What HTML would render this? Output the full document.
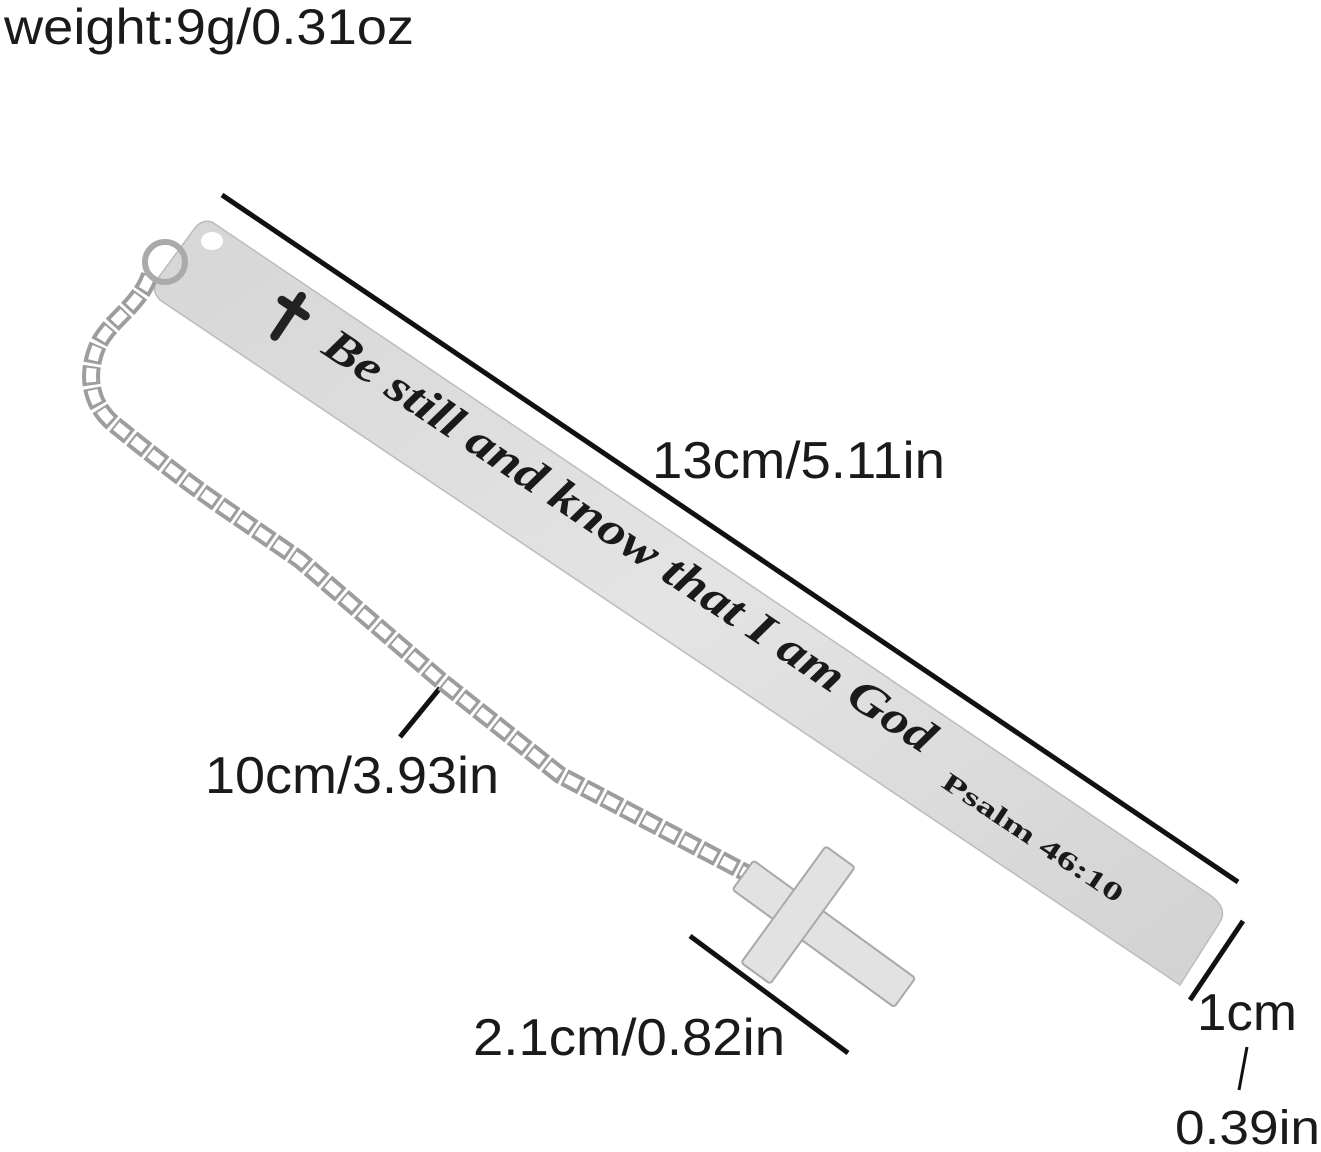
<!DOCTYPE html>
<html><head><meta charset="utf-8"><style>
html,body{margin:0;padding:0;background:#fff;}
svg{display:block}
text{font-family:"Liberation Sans",sans-serif;fill:#1a1a1a}
</style></head><body>
<svg width="1321" height="1152" viewBox="0 0 1321 1152" xmlns="http://www.w3.org/2000/svg">
<defs>
<linearGradient id="m" x1="0" y1="0" x2="1" y2="1">
<stop offset="0" stop-color="#d6d6d6"/><stop offset="0.5" stop-color="#e4e4e4"/><stop offset="1" stop-color="#d2d2d2"/>
</linearGradient>
</defs>
<text x="4" y="44" font-size="50" textLength="410" lengthAdjust="spacingAndGlyphs">weight:9g/0.31oz</text>
<!-- dimension lines -->
<line x1="222" y1="195" x2="1238" y2="882" stroke="#111" stroke-width="5"/>
<line x1="1243" y1="921" x2="1190" y2="1000" stroke="#111" stroke-width="5"/>
<line x1="1247" y1="1047" x2="1239" y2="1090" stroke="#111" stroke-width="3"/>
<line x1="440" y1="688" x2="400" y2="737" stroke="#111" stroke-width="5"/>
<line x1="690" y1="936" x2="848" y2="1053" stroke="#111" stroke-width="5"/>
<!-- bar -->
<path d="M212,222 L1210,895 Q1228,908 1220,922 L1180,985 L160,300 Q150,290 158,278 L195,228 Q202,219 212,222 Z" fill="url(#m)" stroke="#bcbcbc" stroke-width="1.5"/>
<ellipse cx="212" cy="241" rx="11" ry="9" fill="#fff"/>
<!-- chain -->
<path d="M150,275 C140,305 110,320 98,345 C85,375 90,405 115,425 C140,445 170,470 220,505 L300,560 L440,680 L560,775 L750,875" fill="none" stroke="#9d9d9d" stroke-width="18" stroke-dasharray="19 3"/>
<path d="M150,275 C140,305 110,320 98,345 C85,375 90,405 115,425 C140,445 170,470 220,505 L300,560 L440,680 L560,775 L750,875" fill="none" stroke="#fff" stroke-width="10" stroke-dasharray="14 8" stroke-dashoffset="-2"/>
<circle cx="165" cy="262" r="20" fill="none" stroke="#aaa" stroke-width="6"/>
<!-- cross pendant -->
<g transform="translate(798,915) rotate(36)">
<rect x="-68" y="-18" width="200" height="36" rx="3" fill="#e2e2e2" stroke="#a8a8a8" stroke-width="2"/>
<rect x="-18" y="-72" width="36" height="144" rx="3" fill="#e2e2e2" stroke="#a8a8a8" stroke-width="2"/>
<rect x="-17" y="-17" width="34" height="34" fill="#e2e2e2"/>
</g>
<!-- engraved text -->
<g transform="translate(287,318) rotate(33.7)">
<path d="M0,-26 L0,22 M-14,-12 L14,-12" stroke="#222" stroke-width="9" stroke-linecap="round"/>
</g>
<text transform="translate(320,352) rotate(33.7)" font-weight="bold" font-style="italic" font-size="46" style="font-family:'Liberation Serif',serif" textLength="725" lengthAdjust="spacingAndGlyphs">Be still and know that I am God</text>
<text transform="translate(940,786) rotate(33.7)" font-size="26" style="font-family:'Liberation Serif',serif" font-weight="bold" textLength="212" lengthAdjust="spacingAndGlyphs">Psalm 46:10</text>
<!-- labels -->
<text x="652" y="478" font-size="52" textLength="293" lengthAdjust="spacingAndGlyphs">13cm/5.11in</text>
<text x="205" y="793" font-size="52" textLength="294" lengthAdjust="spacingAndGlyphs">10cm/3.93in</text>
<text x="473" y="1055" font-size="52" textLength="312" lengthAdjust="spacingAndGlyphs">2.1cm/0.82in</text>
<text x="1197" y="1030" font-size="52" textLength="100" lengthAdjust="spacingAndGlyphs">1cm</text>
<text x="1175" y="1144" font-size="48" textLength="145" lengthAdjust="spacingAndGlyphs">0.39in</text>
</svg>
</body></html>
